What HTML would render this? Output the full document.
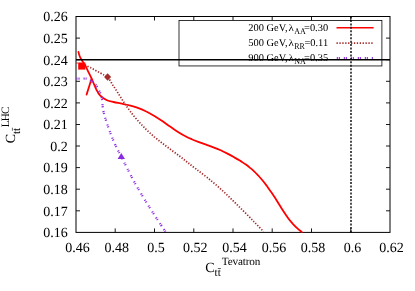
<!DOCTYPE html>
<html><head><meta charset="utf-8">
<style>
html,body{margin:0;padding:0;background:#fff;}
svg{display:block;}
text{font-family:"Liberation Serif",serif;fill:#000;text-rendering:geometricPrecision;}
svg{will-change:transform;}
</style></head><body>
<svg width="415" height="291" viewBox="0 0 415 291">
<rect width="415" height="291" fill="#fff"/>
<rect x="76.0" y="16.5" width="314.0" height="215.9" fill="none" stroke="#000" stroke-width="1"/>
<path d="M115.2 232.4v-4.0M115.2 16.5v4.0M154.5 232.4v-4.0M154.5 16.5v4.0M193.8 232.4v-4.0M193.8 16.5v4.0M233.0 232.4v-4.0M233.0 16.5v4.0M272.2 232.4v-4.0M272.2 16.5v4.0M311.5 232.4v-4.0M311.5 16.5v4.0M350.8 232.4v-4.0M350.8 16.5v4.0M76.0 38.1h4.0M390.0 38.1h-4.0M76.0 59.7h4.0M390.0 59.7h-4.0M76.0 81.3h4.0M390.0 81.3h-4.0M76.0 102.9h4.0M390.0 102.9h-4.0M76.0 124.5h4.0M390.0 124.5h-4.0M76.0 146.0h4.0M390.0 146.0h-4.0M76.0 167.6h4.0M390.0 167.6h-4.0M76.0 189.2h4.0M390.0 189.2h-4.0M76.0 210.8h4.0M390.0 210.8h-4.0" stroke="#000" stroke-width="0.9" fill="none"/>
<g font-size="14" text-anchor="end">
<text x="67.7" y="21.3">0.26</text>
<text x="67.7" y="42.9">0.25</text>
<text x="67.7" y="64.5">0.24</text>
<text x="67.7" y="86.1">0.23</text>
<text x="67.7" y="107.7">0.22</text>
<text x="67.7" y="129.2">0.21</text>
<text x="67.7" y="150.8">0.2</text>
<text x="67.7" y="172.4">0.19</text>
<text x="67.7" y="194.0">0.18</text>
<text x="67.7" y="215.6">0.17</text>
<text x="67.7" y="237.2">0.16</text>
</g>
<g font-size="14" text-anchor="middle">
<text x="77.6" y="251.5">0.46</text>
<text x="116.8" y="251.5">0.48</text>
<text x="156.1" y="251.5">0.5</text>
<text x="195.3" y="251.5">0.52</text>
<text x="234.6" y="251.5">0.54</text>
<text x="273.9" y="251.5">0.56</text>
<text x="313.1" y="251.5">0.58</text>
<text x="352.4" y="251.5">0.6</text>
<text x="391.6" y="251.5">0.62</text>
</g>
<text x="205.3" y="272" font-size="14">C</text>
<text x="214.6" y="276" font-size="11.2">tt</text>
<path d="M217.8 268.5h3.1" stroke="#000" stroke-width="0.6"/>
<text x="221.8" y="264.7" font-size="11.2" textLength="38.6">Tevatron</text>
<g transform="translate(15.1,143.3) rotate(-90)">
<text x="0" y="0" font-size="14">C</text>
<text x="9.3" y="4.8" font-size="11.2">tt</text>
<path d="M12.5 -2.7h3.1" stroke="#000" stroke-width="0.6"/>
<text x="16" y="-6" font-size="11.2" textLength="20.8">LHC</text>
</g>
<rect x="179" y="20.5" width="202.9" height="45.45" fill="#fff" stroke="#000" stroke-width="0.8"/>
<g font-size="10.4">
<text x="248.2" y="30.5" textLength="39.4">200 GeV,</text>
<text x="288.6" y="30.5" font-size="9.4" textLength="5.3" lengthAdjust="spacingAndGlyphs">λ</text>
<text x="294.2" y="33.7" font-size="8.7" textLength="11.6" lengthAdjust="spacingAndGlyphs">AA</text>
<text x="328.1" y="30.5" text-anchor="end">=0.30</text>
<text x="248.2" y="45.6" textLength="39.4">500 GeV,</text>
<text x="288.6" y="45.6" font-size="9.4" textLength="5.3" lengthAdjust="spacingAndGlyphs">λ</text>
<text x="294.2" y="48.8" font-size="8.7" textLength="10.7" lengthAdjust="spacingAndGlyphs">RR</text>
<text x="328.1" y="45.6" text-anchor="end">=0.11</text>
<text x="248.2" y="60.5" textLength="39.4">900 GeV,</text>
<text x="288.6" y="60.5" font-size="9.4" textLength="5.3" lengthAdjust="spacingAndGlyphs">λ</text>
<text x="294.2" y="63.7" font-size="8.7" textLength="11.6" lengthAdjust="spacingAndGlyphs">NA</text>
<text x="328.1" y="60.5" text-anchor="end">=0.35</text>
</g>
<path d="M336.5 27.7H373.6" stroke="#f00" stroke-width="1.5" fill="none"/>
<path d="M336.5 43.2H373.6" stroke="#a52a2a" stroke-width="1.7" stroke-dasharray="1.3 1.6" fill="none"/>
<path d="M336.8 58.1H373.6" stroke="#8a2be2" stroke-width="2.3" stroke-dasharray="1.1 0.9 1.1 3.9" fill="none"/>
<path d="M78.4 51.9 C78.6 52.7 79.2 55.1 79.8 56.5 C80.4 57.9 80.9 58.5 81.9 60.2 C82.9 61.9 84.9 64.8 85.9 66.7 C86.9 68.6 87.1 69.4 88.1 71.4 C89.1 73.4 90.4 75.8 91.7 78.7 C93.0 81.6 94.6 86.0 96.0 88.8 C97.4 91.6 98.2 93.5 100.0 95.4 C101.8 97.3 104.6 99.1 106.9 100.2 C109.2 101.3 111.3 101.5 113.6 102.0 C115.9 102.5 118.1 102.9 120.6 103.4 C123.1 104.0 125.8 104.4 128.6 105.2 C131.4 105.9 134.3 106.7 137.2 107.7 C140.1 108.7 142.9 109.8 145.8 111.2 C148.7 112.5 151.6 114.2 154.4 115.9 C157.2 117.6 160.0 119.5 162.6 121.3 C165.2 123.1 167.6 124.9 170.1 126.6 C172.5 128.2 174.8 129.9 177.2 131.4 C179.6 132.9 182.1 134.4 184.5 135.7 C186.9 137.0 189.3 138.2 191.7 139.2 C194.1 140.3 196.5 141.2 198.9 142.1 C201.3 143.0 203.7 143.8 206.1 144.6 C208.5 145.5 210.9 146.3 213.4 147.3 C215.8 148.2 218.3 149.2 220.7 150.3 C223.1 151.4 225.7 152.7 228.0 153.9 C230.3 155.1 232.6 156.4 234.6 157.6 C236.6 158.7 238.4 159.7 240.2 160.8 C241.9 161.9 243.6 162.9 245.2 164.1 C246.8 165.2 248.4 166.3 249.8 167.6 C251.3 168.8 252.7 170.0 254.1 171.3 C255.5 172.6 256.8 174.0 258.2 175.5 C259.6 177.0 261.0 178.6 262.4 180.3 C263.8 182.0 265.2 183.8 266.6 185.6 C267.9 187.5 269.3 189.4 270.6 191.3 C272.0 193.2 273.3 195.2 274.7 197.3 C276.1 199.5 277.5 201.8 279.0 204.2 C280.5 206.5 282.0 209.1 283.6 211.5 C285.1 213.8 286.7 216.1 288.2 218.2 C289.7 220.3 291.3 222.1 292.8 223.8 C294.4 225.5 295.9 227.0 297.4 228.4 C298.9 229.8 301.1 231.5 301.8 232.1" stroke="#f00" stroke-width="1.8" fill="none" stroke-linejoin="round" stroke-linecap="round"/>
<path d="M91.5 79.0 C90.7 81.6 87.4 92.0 86.6 94.6" stroke="#f00" stroke-width="1.8" fill="none" stroke-linecap="round"/>
<path d="M76.5 63.0 C78.1 63.4 81.4 63.5 86.0 65.5 C90.6 67.5 100.4 73.1 104.0 75.0 C107.6 76.9 106.1 75.3 107.6 77.0 C109.1 78.7 111.1 82.3 112.9 85.2 C114.8 88.0 116.9 91.3 118.8 94.2 C120.7 97.2 122.4 100.0 124.2 102.7 C126.0 105.4 127.6 107.8 129.8 110.7 C131.9 113.6 134.5 116.9 137.2 119.9 C139.9 123.0 143.0 126.3 145.8 129.1 C148.6 131.9 151.5 134.4 154.2 136.8 C157.0 139.1 159.5 141.0 162.2 143.2 C165.0 145.3 167.9 147.4 170.8 149.6 C173.7 151.8 176.9 154.2 179.7 156.2 C182.4 158.3 184.6 160.1 187.3 162.2 C190.0 164.3 192.6 166.4 195.9 168.9 C199.2 171.4 203.1 174.3 207.0 177.4 C210.9 180.5 215.0 183.9 219.0 187.5 C223.0 191.0 227.1 194.9 231.1 198.8 C235.1 202.7 239.2 206.8 243.1 210.7 C247.0 214.5 250.8 218.4 254.2 221.9 C257.6 225.4 261.9 229.9 263.5 231.5" stroke="#a52a2a" stroke-width="1.7" stroke-dasharray="1.3 1.6" fill="none"/>
<path d="M76.5 78.7 C78.2 78.7 84.1 78.3 86.6 78.7 C89.1 79.1 90.1 80.2 91.7 81.3 C93.3 82.4 94.7 83.5 96.0 85.2 C97.3 86.9 98.6 89.5 99.6 91.7 C100.6 93.9 101.2 95.0 101.8 98.2 C102.4 101.4 102.4 106.6 103.3 110.8 C104.2 115.0 105.5 119.1 107.0 123.5 C108.4 127.8 110.2 132.8 111.9 137.0 C113.6 141.2 115.5 145.4 117.1 148.7 C118.7 151.9 119.7 153.5 121.3 156.7 C122.9 159.8 124.2 162.6 126.7 167.4 C129.2 172.2 132.5 178.9 136.3 185.5 C140.1 192.1 145.3 200.6 149.3 207.1 C153.4 213.5 157.9 220.2 160.6 224.4 C163.4 228.6 164.9 230.7 165.7 232.0" stroke="#8a2be2" stroke-width="2.2" stroke-dasharray="1.1 0.9 1.1 3.9" fill="none"/>
<rect x="78.2" y="62.5" width="7.2" height="7.1" fill="#f00"/>
<path d="M107.6 73.2 L111.1 77 L107.6 80.8 L104.1 77Z" fill="#a52a2a"/>
<path d="M121.3 153 L125 159 L117.6 159Z" fill="#8a2be2"/>
<path d="M76.0 59.7H390.0" stroke="#000" stroke-width="1.6" fill="none"/>
<path d="M351 16.5V232.4" stroke="#000" stroke-width="1.4" stroke-dasharray="2 1.45" fill="none"/>
</svg>
</body></html>
